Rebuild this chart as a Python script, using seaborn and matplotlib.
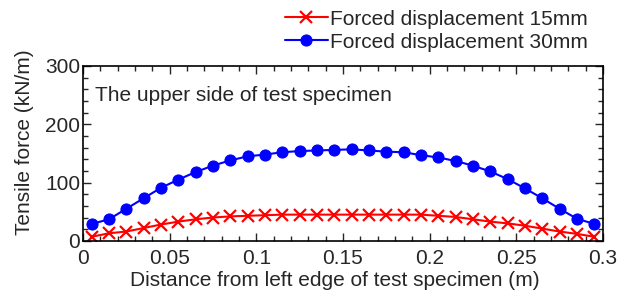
import numpy as np
import pandas as pd
import matplotlib
matplotlib.use("Agg")
import matplotlib.pyplot as plt
from matplotlib.ticker import MultipleLocator
import seaborn as sns

# distance from left edge (m)
distance = [0.005, 0.015, 0.025, 0.035, 0.045, 0.055, 0.065, 0.075, 0.085, 0.095,
            0.105, 0.115, 0.125, 0.135, 0.145, 0.155, 0.165, 0.175, 0.185, 0.195,
            0.205, 0.215, 0.225, 0.235, 0.245, 0.255, 0.265, 0.275, 0.285, 0.295]

# tensile force (kN/m)
force_15mm = [7, 13, 16, 22, 28, 33, 37, 40, 42, 43,
              44, 45, 45, 45, 45, 45, 45, 45, 45, 45,
              43, 41, 37, 33, 30, 26, 21, 16, 12, 7]
force_30mm = [29, 37, 55, 73, 91, 105, 118, 129, 138, 145,
              148, 152, 154, 155, 156, 157, 155, 153, 152, 147,
              143, 137, 129, 119, 106, 90, 73, 55, 38, 29]

labels = ["Forced displacement 15mm", "Forced displacement 30mm"]

sns.set_style("ticks")
plt.rcParams["font.family"] = ["Liberation Sans", "DejaVu Sans"]
fs = 15

fig = plt.figure(figsize=(6.19, 2.97), dpi=100)
ax = fig.add_axes([0.134, 0.189, 0.840, 0.589])

sns.lineplot(x=distance, y=force_15mm, color="#ff0000", marker="x",
             markersize=9, markeredgewidth=1.6, markeredgecolor="#ff0000",
             linewidth=1.5, label=labels[0], ax=ax)
sns.lineplot(x=distance, y=force_30mm, color="#0000ff", marker="o",
             markersize=8, markeredgecolor="#0000ff", linewidth=1.5, label=labels[1], ax=ax)

ax.set_xlim(0, 0.3)
ax.set_ylim(0, 300)
ax.xaxis.set_major_locator(MultipleLocator(0.05))
ax.xaxis.set_minor_locator(MultipleLocator(0.01))
ax.yaxis.set_major_locator(MultipleLocator(100))
ax.yaxis.set_minor_locator(MultipleLocator(20))
ax.xaxis.set_major_formatter(plt.FuncFormatter(lambda v, p: f"{v:g}"))
ax.tick_params(which="both", direction="in", top=True, right=True, labelsize=fs)
ax.tick_params(axis="x", pad=6)
ax.tick_params(axis="y", pad=2)
ax.tick_params(which="major", length=6, width=1)
ax.tick_params(which="minor", length=3.5, width=1)
for s in ax.spines.values():
    s.set_linewidth(1.2)
    s.set_color("black")

ax.set_xlabel("Distance from left edge of test specimen (m)", fontsize=fs)
ax.set_ylabel("Tensile force (kN/m)", fontsize=fs)
ax.xaxis.set_label_coords(0.485, -0.175)
ax.yaxis.set_label_coords(-0.094, 0.566)
ax.text(0.023, 0.83, "The upper side of test specimen", transform=ax.transAxes,
        fontsize=fs, va="center", ha="left")

h, l = ax.get_legend_handles_labels()
ax.legend(h, l, loc="upper left", bbox_to_anchor=(285 / 619, 0.968), bbox_transform=fig.transFigure,
          frameon=False, fontsize=fs, handlelength=2.05, handletextpad=0.1,
          labelspacing=0.2, borderaxespad=0.0, borderpad=0.0)

fig.savefig("out.png", dpi=100)
